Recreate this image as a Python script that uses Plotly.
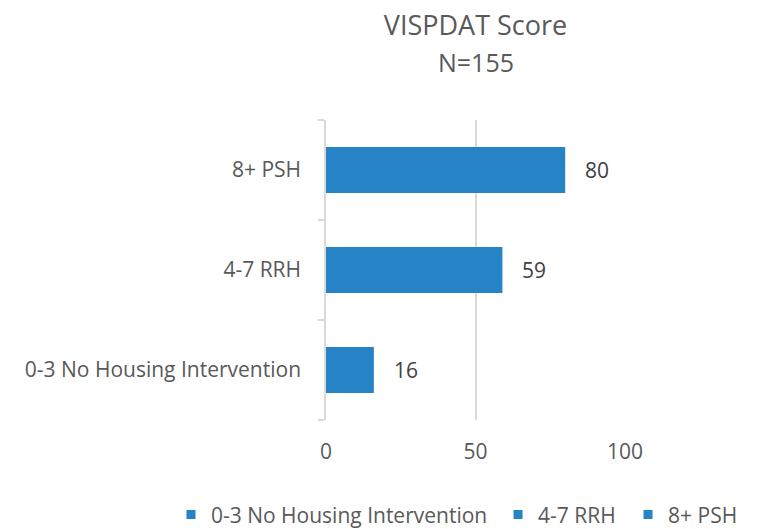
import plotly.graph_objects as go

categories = ["0-3 No Housing Intervention", "4-7 RRH", "8+ PSH"]
counts = [16, 59, 80]
total_n = 155

BLUE = "#2683C6"
GRID = "#D9D9D9"
TEXT = "#595959"
FONT = "Open Sans, sans-serif"

# page body adds an 8px margin, so keep the figure a bit smaller than the window
W, H = 751, 521

fig = go.Figure()

for cat, val in zip(categories, counts):
    fig.add_trace(
        go.Bar(
            x=[val],
            y=[cat],
            orientation="h",
            name=cat,
            width=0.46,
            marker=dict(color=BLUE, line=dict(width=0)),
            showlegend=False,
            hoverinfo="x+y",
        )
    )
    # value labels sit a little right of the bar end
    fig.add_annotation(
        x=val, y=cat, text=str(val), showarrow=False,
        xanchor="left", xshift=18,
        font=dict(size=21, color="#404040", family=FONT),
    )

# one single-entry legend per category so the row never wraps
legend_names = ["legend", "legend2", "legend3"]
legend_x = [0.217, 0.6525, 0.8256]
for cat, lg in zip(categories, legend_names):
    fig.add_trace(
        go.Scatter(
            x=[None], y=[None], mode="markers", name=cat, legend=lg,
            marker=dict(symbol="square", size=9, color=BLUE),
        )
    )

fig.add_annotation(
    text=f"N={total_n}", xref="paper", yref="paper", x=0.5, y=1.194,
    showarrow=False, yanchor="middle",
    font=dict(size=25, color=TEXT, family=FONT),
)

legend_style = dict(
    orientation="h",
    xref="container", yref="container",
    xanchor="left",
    y=0.027, yanchor="middle",
    font=dict(size=21, color=TEXT),
    itemwidth=30,
    bgcolor="rgba(0,0,0,0)",
)

fig.update_layout(
    width=W,
    height=H,
    barmode="overlay",
    plot_bgcolor="white",
    paper_bgcolor="white",
    margin=dict(l=318, r=134, t=112, b=109, autoexpand=False),
    font=dict(family=FONT, color=TEXT, size=20),
    title=dict(
        text="VISPDAT Score",
        x=0.5, xref="paper", yref="container", y=0.967, yanchor="middle",
        font=dict(size=27, color=TEXT, family=FONT),
    ),
    showlegend=True,
)
for lg, lx in zip(legend_names, legend_x):
    fig.update_layout({lg: dict(legend_style, x=lx)})

fig.update_xaxes(
    range=[0, 100],
    dtick=50,
    showgrid=True,
    gridcolor=GRID,
    gridwidth=1.5,
    zeroline=False,
    showline=False,
    ticks="",
    ticklabelstandoff=17,
    tickfont=dict(size=21, color=TEXT),
)

fig.update_yaxes(
    categoryorder="array",
    categoryarray=categories,
    showline=True,
    linecolor=GRID,
    linewidth=1.5,
    ticks="outside",
    tickson="boundaries",
    ticklen=6,
    tickcolor=GRID,
    tickwidth=1.5,
    ticklabelstandoff=19,
    showgrid=False,
    tickfont=dict(size=21, color=TEXT),
)

fig.write_html("out.html")
